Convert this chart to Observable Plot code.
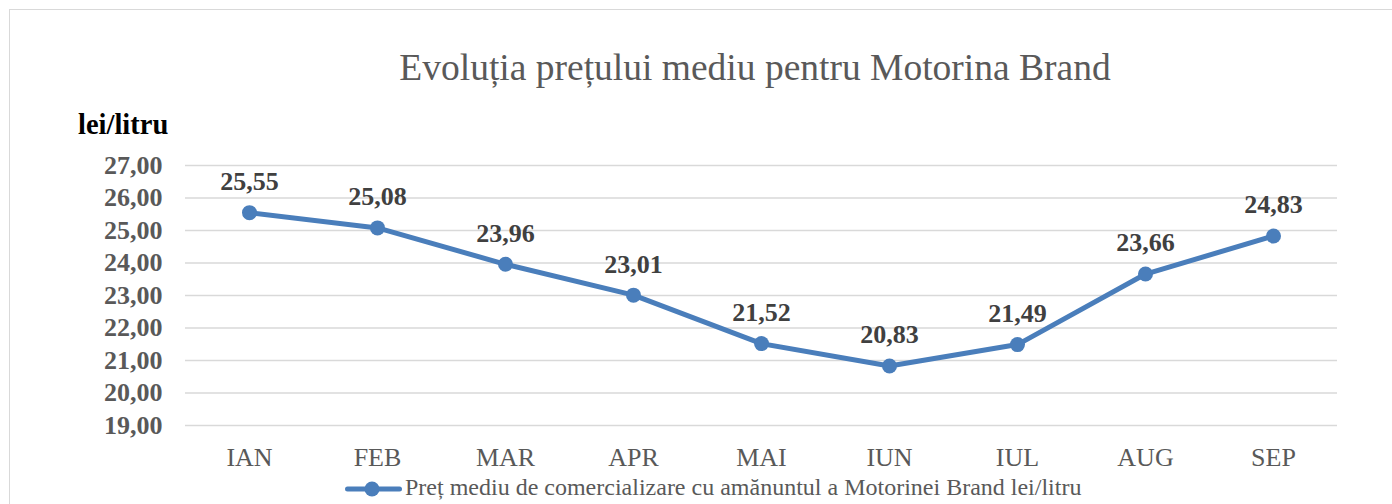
<!DOCTYPE html>
<html>
<head>
<meta charset="utf-8">
<script src="https://cdn.jsdelivr.net/npm/d3@7"></script>
<script src="https://cdn.jsdelivr.net/npm/@observablehq/plot@0.6"></script>
<style>
  html, body { margin: 0; padding: 0; background: #fff; }
  body { width: 1392px; height: 504px; overflow: hidden; position: relative; font-family: "Liberation Serif", "Times New Roman", serif; }
  #frame { position: absolute; left: 9px; top: 9px; width: 1400px; height: 520px; border: 1.5px solid #d9d9d9; box-sizing: border-box; }
  #header { position: relative; height: 140px; }
  #title { position: absolute; left: 755px; top: 49px; transform: translateX(-50%); white-space: nowrap; font-size: 37.5px; line-height: 37px; color: #595959; }
  #unit { position: absolute; left: 78px; top: 111px; font-size: 28.5px; line-height: 28px; font-weight: bold; color: #000; }
  #chart { position: absolute; left: 0; top: 140px; }
  #legend { position: absolute; left: 345px; top: 475px; height: 24px; display: flex; align-items: center; white-space: nowrap; font-size: 24px; color: #595959; }
  #legend svg { margin-right: 3px; }
</style>
</head>
<body>
<div id="frame"></div>
<div id="header">
  <div id="title">Evoluția prețului mediu pentru Motorina Brand</div>
  <div id="unit">lei/litru</div>
</div>
<div id="chart"></div>
<div id="legend"></div>
<script>
const months = ["IAN", "FEB", "MAR", "APR", "MAI", "IUN", "IUL", "AUG", "SEP"];
const prices = [25.55, 25.08, 23.96, 23.01, 21.52, 20.83, 21.49, 23.66, 24.83];
const yTicks = [19, 20, 21, 22, 23, 24, 25, 26, 27];
const seriesName = "Preț mediu de comercializare cu amănuntul a Motorinei Brand lei/litru";
const lineColor = "#4a7ebb";

const data = months.map((m, i) => ({month: m, price: prices[i]}));
const fmt = v => v.toFixed(2).replace(".", ",");

const chart = Plot.plot({
  width: 1392,
  height: 330,
  marginTop: 25,
  marginBottom: 45,
  marginLeft: 185,
  marginRight: 55,
  style: { fontFamily: "Liberation Serif, Times New Roman, serif", background: "transparent", overflow: "visible" },
  x: { type: "point", domain: months, padding: 0.5, label: null },
  y: { domain: [19, 27], label: null },
  marks: [
    Plot.gridY(yTicks, { stroke: "#d9d9d9", strokeOpacity: 1, strokeWidth: 1.5 }),
    Plot.axisY(yTicks, { tickSize: 0, tickPadding: 23, tickFormat: fmt, fontSize: 26, fontWeight: "bold", fill: "#595959", label: null }),
    Plot.axisX({ tickSize: 0, tickPadding: 22, fontSize: 26, fill: "#595959", label: null }),
    Plot.line(data, { x: "month", y: "price", stroke: lineColor, strokeWidth: 5, strokeLinejoin: "round" }),
    Plot.dot(data, { x: "month", y: "price", r: 7.5, fill: lineColor, stroke: null }),
    Plot.text(data, { x: "month", y: "price", text: d => fmt(d.price), dy: -31, fontSize: 26, fontWeight: "bold", fill: "#404040" })
  ]
});
document.getElementById("chart").appendChild(chart);

// legend
const legend = document.getElementById("legend");
const ns = "http://www.w3.org/2000/svg";
const sw = document.createElementNS(ns, "svg");
sw.setAttribute("width", 57); sw.setAttribute("height", 20);
const ln = document.createElementNS(ns, "line");
ln.setAttribute("x1", 2.5); ln.setAttribute("x2", 54.5); ln.setAttribute("y1", 12); ln.setAttribute("y2", 12);
ln.setAttribute("stroke", lineColor); ln.setAttribute("stroke-width", 5); ln.setAttribute("stroke-linecap", "round");
const cc = document.createElementNS(ns, "circle");
cc.setAttribute("cx", 27); cc.setAttribute("cy", 12); cc.setAttribute("r", 7.5); cc.setAttribute("fill", lineColor);
sw.appendChild(ln); sw.appendChild(cc);
legend.appendChild(sw);
const lt = document.createElement("span");
lt.textContent = seriesName;
legend.appendChild(lt);
</script>
</body>
</html>
